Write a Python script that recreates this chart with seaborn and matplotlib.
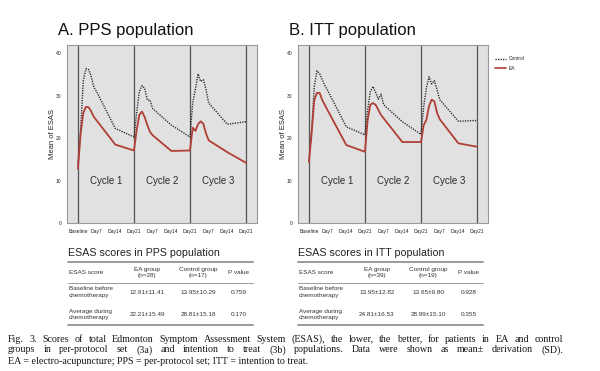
import numpy as np
import pandas as pd
import matplotlib
matplotlib.use('Agg')
import matplotlib.pyplot as plt
import seaborn as sns
from matplotlib.lines import Line2D

sns.set_theme(style='white')
plt.rcParams['font.family'] = ['Liberation Sans', 'DejaVu Sans']

# days after baseline (three 21-day cycles)
days = [0, 1, 2, 3, 4, 5, 6, 7, 14, 21,
        22, 23, 24, 25, 26, 27, 28, 35, 42,
        43, 44, 45, 46, 47, 48, 49, 56, 63]

pps_control = [14.0, 22.0, 33.5, 36.4, 36.2, 34.5, 32.0, 31.0, 22.3, 20.3,
               26.0, 31.0, 32.4, 31.8, 29.0, 29.0, 27.0, 23.1, 20.3,
               28.3, 31.5, 35.2, 33.4, 33.8, 31.5, 28.3, 23.3, 23.9]
pps_ea = [12.8, 21.0, 26.0, 27.4, 27.3, 26.3, 25.0, 24.2, 18.5, 17.1,
          21.9, 25.5, 26.3, 25.0, 23.1, 21.5, 20.7, 17.0, 17.1,
          22.5, 21.7, 23.3, 24.0, 23.4, 21.1, 19.5, 16.7, 14.2]

itt_control = [14.5, 22.0, 32.2, 35.9, 35.2, 33.8, 32.4, 31.3, 22.7, 20.8,
               26.7, 31.0, 32.2, 30.8, 29.2, 30.4, 27.9, 23.9, 20.9,
               27.5, 31.8, 34.5, 32.8, 33.6, 31.5, 29.1, 24.0, 24.2]
itt_ea = [14.4, 21.1, 29.0, 30.7, 30.7, 29.0, 27.8, 26.6, 18.4, 16.8,
          24.3, 27.9, 28.3, 27.9, 26.7, 25.5, 24.7, 19.1, 19.1,
          23.1, 24.3, 27.6, 29.1, 28.7, 26.0, 24.5, 18.8, 18.0]

tick_days = [0, 7, 14, 21, 28, 35, 42, 49, 56, 63]
tick_labels = ['Baseline', 'Day7', 'Day14', 'Day21', 'Day7', 'Day14',
               'Day21', 'Day7', 'Day14', 'Day21']
cycle_names = ['Cycle 1', 'Cycle 2', 'Cycle 3']

table_head = ['ESAS score', 'EA group', 'Control group', 'P value']
table_rows = ['Baseline before\nchemotherapy', 'Average during\nchemotherapy']
pps_n = ['(n=28)', '(n=17)']
pps_vals = [['12.91±11.41', '13.95±10.29', '0.759'],
            ['22.21±15.49', '28.81±15.18', '0.170']]
itt_n = ['(n=39)', '(n=19)']
itt_vals = [['13.95±12.82', '13.65±9.80', '0.928'],
            ['24.81±16.53', '28.99±15.10', '0.355']]

caption = [
    'Fig. 3. Scores of total Edmonton Symptom Assessment System (ESAS), the lower, the better, for patients in EA and control',
    'groups in per-protocol set (3a) and intention to treat (3b) populations. Data were shown as mean± derivation (SD).',
    'EA = electro-acupuncture; PPS = per-protocol set; ITT = intention to treat.',
]

W, H = 600, 371
fig = plt.figure(figsize=(6, 3.71), dpi=100)
fig.patch.set_facecolor('white')


def fx(x):
    return x / W


def fy(y):
    return 1 - y / H


pal = {'Control': '#262626', 'EA': '#b03f36'}


def panel(left, title, control, ea):
    ax = fig.add_axes([fx(left), fy(223), fx(190), 178 / H])
    df = pd.DataFrame({
        'day': days * 2,
        'esas': control + ea,
        'group': ['Control'] * len(days) + ['EA'] * len(days),
    })
    sns.lineplot(data=df, x='day', y='esas', hue='group', style='group',
                 palette=pal, dashes={'Control': (0.9, 0.9), 'EA': ''},
                 ax=ax, legend=False)
    for ln in ax.lines:
        ln.set_linewidth(1.0 if ln.get_color() == pal['Control'] else 1.3)
    ax.set_facecolor('#e1e1e1')
    for s in ax.spines.values():
        s.set_color('#9a9a9a')
        s.set_linewidth(0.8)
    for d in [0, 21, 42, 63]:
        ax.axvline(d, color='#555555', lw=0.9, zorder=1)
    for i, name in enumerate(cycle_names):
        ax.text(10.5 + 21 * i, 10, name, ha='center', va='center',
                fontsize=7, color='#2a2a2a')
    ax.set_xlim(-4.1, 67.1)
    ax.set_ylim(0, 42)
    ax.set_xticks(tick_days)
    ax.set_xticklabels(tick_labels)
    ax.set_yticks([0, 10, 20, 30, 40])
    ax.tick_params(axis='both', labelsize=3.6, length=2, width=0.5,
                   pad=2, colors='#555555', labelcolor='#222222')
    ax.set_xlabel('')
    ax.set_ylabel('Mean of ESAS', fontsize=5.5, labelpad=0)
    fig.text(fx(left - 9), fy(30), title, fontsize=12, va='center',
             ha='left', color='#111111')
    return ax


axA = panel(67, 'A. PPS population', pps_control, pps_ea)
axB = panel(298, 'B. ITT population', itt_control, itt_ea)

handles = [Line2D([], [], color=pal['Control'], lw=1.0, dashes=(0.9, 0.9)),
           Line2D([], [], color=pal['EA'], lw=1.2)]
fig.legend(handles, ['Control', 'EA'], loc='upper left',
           bbox_to_anchor=(fx(491), fy(52)), frameon=False, fontsize=3.5,
           handlelength=2.2, labelspacing=0.9, handletextpad=0.5)


def table(left, title, ns, vals):
    fig.text(fx(left), fy(253), title, fontsize=7.7, va='center',
             color='#222222')
    right = left + 185
    for y, lw in [(262, 1.4), (282.5, 0.7), (325, 1.4)]:
        fig.add_artist(Line2D([fx(left), fx(right)], [fy(y), fy(y)],
                              color='#9a9a9a', lw=lw))
    cols = [left + 79, left + 130, left + 171]
    fs = 4.6
    tc = '#333333'
    fig.text(fx(left + 1), fy(272), table_head[0], fontsize=fs, va='center',
             color=tc)
    for c, head, n in zip(cols[:2], table_head[1:3], ns):
        fig.text(fx(c), fy(272), head + '\n' + n, fontsize=fs, va='center',
                 ha='center', color=tc, linespacing=1.25)
    fig.text(fx(cols[2]), fy(272), table_head[3], fontsize=fs, va='center',
             ha='center', color=tc)
    for r, (lab, row) in enumerate(zip(table_rows, vals)):
        y = 292 + 22 * r
        fig.text(fx(left + 1), fy(y), lab, fontsize=fs, va='center',
                 color=tc, linespacing=1.25)
        for c, v in zip(cols, row):
            fig.text(fx(c), fy(y), v, fontsize=fs, va='center', ha='center',
                     color=tc)


table(68, 'ESAS scores in PPS population', pps_n, pps_vals)
table(298, 'ESAS scores in ITT population', itt_n, itt_vals)

# caption, first two lines justified
renderer = fig.canvas.get_renderer()
cap_font = dict(fontsize=7.2, family=['Liberation Serif', 'DejaVu Serif'],
                color='#151515', va='center')
cap_left, cap_right = 8, 563
for i, line in enumerate(caption):
    y = fy(339 + 11 * i)
    if i == len(caption) - 1:
        fig.text(fx(cap_left), y, line, **cap_font)
        continue
    words = line.split(' ')
    texts = [fig.text(0, y, w, **cap_font) for w in words]
    widths = [t.get_window_extent(renderer).width for t in texts]
    gap = (cap_right - cap_left - sum(widths)) / (len(words) - 1)
    x = cap_left
    for t, w in zip(texts, widths):
        t.set_x(fx(x))
        x += w + gap

fig.savefig('out.png', dpi=100, facecolor='white')
